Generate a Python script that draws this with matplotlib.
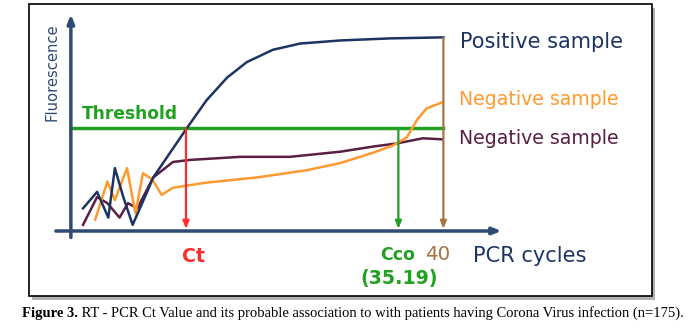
import matplotlib
matplotlib.use("Agg")
import matplotlib.pyplot as plt
from matplotlib.patches import Rectangle

# ---- data (PCR cycle, fluorescence in threshold units) ----
pos_cycles = [1.5, 3.0, 4.2, 4.9, 5.8, 6.8, 8.3, 9.0, 10.8, 12.6, 14.7, 16.9, 19.0, 21.8, 24.7, 29.0, 34.3, 40.0]
pos_fluor  = [0.22, 0.38, 0.13, 0.61, 0.33, 0.06, 0.37, 0.52, 0.76, 1.00, 1.27, 1.49, 1.64, 1.76, 1.82, 1.85, 1.87, 1.88]

neg1_cycles = [2.8, 4.1, 4.9, 6.2, 7.1, 7.9, 8.9, 9.9, 11.1, 14.7, 20.1, 25.4, 29.0, 32.5, 34.6, 36.1, 37.2, 38.2, 39.9]
neg1_fluor  = [0.11, 0.48, 0.30, 0.61, 0.17, 0.56, 0.50, 0.35, 0.42, 0.47, 0.52, 0.59, 0.66, 0.76, 0.83, 0.91, 1.08, 1.19, 1.25]

neg2_cycles = [1.5, 3.0, 4.1, 5.4, 6.3, 7.3, 9.0, 11.1, 12.9, 18.3, 23.6, 29.0, 32.5, 35.0, 37.8, 39.9]
neg2_fluor  = [0.06, 0.33, 0.27, 0.13, 0.27, 0.22, 0.52, 0.67, 0.69, 0.72, 0.72, 0.77, 0.82, 0.85, 0.90, 0.89]

threshold = 1.0
ct_value = 12.5
cco_value = 35.19
max_cycles = 40

labels = ["Positive sample", "Negative sample", "Negative sample"]
caption_bold = "Figure 3."
caption_rest = " RT - PCR Ct Value and its probable association to with patients having Corona Virus infection (n=175)."

NAVY = "#1c3461"
AXIS = "#2f4b73"
ORANGE = "#ff9a30"
MAROON = "#5a1f44"
GREEN = "#22a022"
RED = "#ff2a2a"
BROWN = "#a87442"
FONT = ["DejaVu Sans"]

W, H = 688, 331
fig = plt.figure(figsize=(W / 100, H / 100), dpi=100)

def fx(px): return px / W
def fy(py): return 1 - py / H
fig.patches.append(Rectangle((fx(32), fy(300)), fx(652) - fx(29), fy(4) - fy(296),
                             transform=fig.transFigure, facecolor="#b0b0b0", edgecolor="none", zorder=0))
fig.patches.append(Rectangle((fx(29), fy(296)), fx(652) - fx(29), fy(4) - fy(296),
                             transform=fig.transFigure, facecolor="white", edgecolor="black", lw=1.2, zorder=1))

ax = fig.add_axes([0, 0, 1, 1])
ax.set_zorder(5)
ax.patch.set_alpha(0)
ax.set_xlim((0 - 69) / 9.36, (W - 69) / 9.36)
ax.set_ylim((231 - H) / 103, 231 / 103)
ax.axis("off")

# axes arrows
ax.annotate("", xy=(0.2, 2.13), xytext=(0.2, -0.09),
            arrowprops=dict(arrowstyle="-|>,head_length=0.5,head_width=0.2", color=AXIS, lw=2.5))
ax.annotate("", xy=(46.5, 0), xytext=(-1.7, 0),
            arrowprops=dict(arrowstyle="-|>,head_length=0.5,head_width=0.2", color=AXIS, lw=2.5))

# curves
ax.plot(neg2_cycles, neg2_fluor, color=MAROON, lw=1.8, zorder=3, solid_joinstyle="round")
ax.plot(neg1_cycles, neg1_fluor, color=ORANGE, lw=1.8, zorder=3, solid_joinstyle="round")
ax.plot(pos_cycles, pos_fluor, color=NAVY, lw=1.8, zorder=4, solid_joinstyle="round")

# threshold
ax.plot([0.2, max_cycles], [threshold, threshold], color=GREEN, lw=2.5, zorder=2)

def drop(x, ytop, color):
    ax.annotate("", xy=(x, 0.02), xytext=(x, ytop),
                arrowprops=dict(arrowstyle="-|>,head_length=0.45,head_width=0.18", color=color, lw=1.6,
                                shrinkA=0, shrinkB=0), zorder=5)
drop(ct_value, threshold, RED)
drop(cco_value, threshold, GREEN)
drop(max_cycles, pos_fluor[-1], BROWN)

fig.canvas.draw()
renderer = fig.canvas.get_renderer()

def fit_text(x, y, s, width_px, **kw):
    t = ax.text(x, y, s, fontsize=12, family=FONT, **kw)
    bb = t.get_window_extent(renderer)
    size_px = bb.height if kw.get("rotation", 0) == 90 else bb.width
    t.set_fontsize(12 * width_px / size_px)
    return t

fit_text(1.39, 1.087, "Threshold", 96, color=GREEN, fontweight="bold", va="baseline")
fit_text(41.77, 1.777, labels[0], 163, color=NAVY, va="baseline")
fit_text(41.67, 1.223, labels[1], 159, color=ORANGE, va="baseline")
fit_text(41.67, 0.845, labels[2], 159, color=MAROON, va="baseline")
fit_text(43.16, -0.301, "PCR cycles", 114, color=NAVY, va="baseline")
fit_text(12.07, -0.301, "Ct", 23, color=RED, fontweight="bold", va="baseline")
fit_text(33.23, -0.282, "Cco", 35, color=GREEN, fontweight="bold", va="baseline")
fit_text(38.03, -0.282, "40", 25, color=BROWN, va="baseline")
fit_text(31.09, -0.515, "(35.19)", 77, color=GREEN, fontweight="bold", va="baseline")
fit_text(-1.8, (231 - 72) / 103, "Fluorescence", 97, color=AXIS, va="center", ha="center", rotation=90)

t = fig.text(fx(22), fy(313), caption_bold, fontsize=10.5, fontweight="bold", family="Liberation Serif", va="center")
fig.canvas.draw()
bb = t.get_window_extent()
fig.text(bb.x1 / W, fy(313), caption_rest, fontsize=10.5, family="Liberation Serif", va="center")

fig.savefig("out.png", dpi=100)
